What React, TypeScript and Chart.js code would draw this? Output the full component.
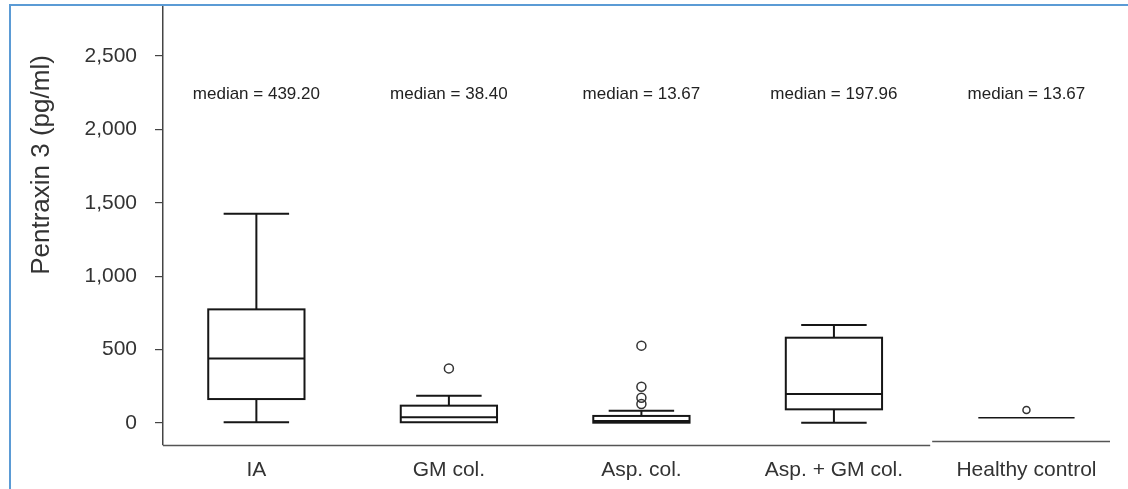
import React, { useEffect, useRef } from 'react';
import { Chart, registerables } from 'chart.js';

Chart.register(...registerables);

// ---- data ----
const CATEGORIES = ['IA', 'GM col.', 'Asp. col.', 'Asp. + GM col.', 'Healthy control'];
const MIN = [5, 5, 2, 2, 36];
const Q1 = [163, 5, 2, 93, 36];
const MEDIAN = [439.2, 38.4, 13.67, 197.96, 36];
const Q3 = [774, 118, 48, 581, 36];
const MAX = [1426, 186, 84, 668, 36];
const MEDIAN_LABELS = ['median = 439.20', 'median = 38.40', 'median = 13.67', 'median = 197.96', 'median = 13.67'];
const OUTLIER_GROUP = [1, 2, 2, 2, 2, 4];
const OUTLIER_VALUE = [372, 527, 247, 172, 129, 89];
const Y_TICKS = [0, 500, 1000, 1500, 2000, 2500];
const Y_TITLE = 'Pentraxin 3 (pg/ml)';

const FONT = '"Liberation Sans", Arial, sans-serif';
const BOX_HALF = 0.25;
const CAP_HALF = 0.17;
const LABEL_VALUE = 2240;

const boxPlugin = {
  id: 'boxPlugin',
  beforeDatasetsDraw(chart: any) {
    const { ctx } = chart;
    const xs = chart.scales.x;
    const ys = chart.scales.y;
    ctx.save();
    ctx.strokeStyle = '#161616';
    ctx.lineWidth = 2;
    CATEGORIES.forEach((_, i) => {
      const xl = xs.getPixelForValue(i - BOX_HALF);
      const xr = xs.getPixelForValue(i + BOX_HALF);
      const cl = xs.getPixelForValue(i - CAP_HALF);
      const cr = xs.getPixelForValue(i + CAP_HALF);
      const xc = xs.getPixelForValue(i);
      const yq1 = ys.getPixelForValue(Q1[i]);
      const yq3 = ys.getPixelForValue(Q3[i]);
      const ymed = ys.getPixelForValue(MEDIAN[i]);
      const ymin = ys.getPixelForValue(MIN[i]);
      const ymax = ys.getPixelForValue(MAX[i]);
      if (Q3[i] > Q1[i]) {
        ctx.lineWidth = 2;
        ctx.strokeRect(xl, yq3, xr - xl, yq1 - yq3);
      } else {
        ctx.lineWidth = 1.6;
      }
      ctx.beginPath();
      ctx.moveTo(xl, ymed);
      ctx.lineTo(xr, ymed);
      ctx.stroke();
      ctx.lineWidth = 2;
      if (MAX[i] > Q3[i]) {
        ctx.beginPath();
        ctx.moveTo(xc, yq3);
        ctx.lineTo(xc, ymax);
        ctx.moveTo(cl, ymax);
        ctx.lineTo(cr, ymax);
        ctx.stroke();
      }
      if (MIN[i] < Q1[i]) {
        ctx.beginPath();
        ctx.moveTo(xc, yq1);
        ctx.lineTo(xc, ymin);
        ctx.moveTo(cl, ymin);
        ctx.lineTo(cr, ymin);
        ctx.stroke();
      }
    });
    // median annotations
    ctx.fillStyle = '#222';
    ctx.font = `17px ${FONT}`;
    ctx.textAlign = 'center';
    ctx.textBaseline = 'middle';
    MEDIAN_LABELS.forEach((t, i) => {
      ctx.fillText(t, xs.getPixelForValue(i), ys.getPixelForValue(LABEL_VALUE));
    });
    ctx.restore();
  },
  afterDraw(chart: any) {
    const { ctx, chartArea } = chart;
    const xs = chart.scales.x;
    const split = xs.getPixelForValue(CATEGORIES.length - 1.5);
    ctx.save();
    ctx.strokeStyle = '#555';
    ctx.lineWidth = 1.5;
    ctx.beginPath();
    ctx.moveTo(chartArea.left, chartArea.bottom + 0.5);
    ctx.lineTo(split, chartArea.bottom + 0.5);
    ctx.moveTo(split + 2, chartArea.bottom - 3.5);
    ctx.lineTo(chartArea.right, chartArea.bottom - 3.5);
    ctx.stroke();
    // y-axis title
    ctx.translate(42, 165);
    ctx.rotate(-Math.PI / 2);
    ctx.fillStyle = '#333';
    ctx.font = `26px ${FONT}`;
    ctx.textAlign = 'center';
    ctx.textBaseline = 'middle';
    ctx.fillText(Y_TITLE, 0, 0);
    ctx.restore();
  },
};

export default function App() {
  const ref = useRef<HTMLCanvasElement>(null);

  useEffect(() => {
    if (!ref.current) return;
    const outliers = OUTLIER_GROUP.map((g, k) => ({ x: g, y: OUTLIER_VALUE[k] }));
    const chart = new Chart(ref.current, {
      type: 'scatter',
      data: {
        datasets: [
          {
            label: 'Outliers',
            data: outliers,
            pointStyle: 'circle',
            pointRadius: (c: any) => (c.raw && c.raw.x === CATEGORIES.length - 1 ? 3.5 : 4.5),
            pointBorderWidth: 1.5,
            borderColor: '#333',
            backgroundColor: 'rgba(0,0,0,0)',
          },
        ],
      },
      options: {
        responsive: false,
        animation: false,
        layout: { padding: { top: 7, right: 18, left: 0, bottom: 0 } },
        plugins: {
          legend: { display: false },
          tooltip: { enabled: false },
        },
        scales: {
          x: {
            type: 'linear',
            min: -0.485,
            max: 4.434,
            afterBuildTicks: (axis: any) => {
              axis.ticks = CATEGORIES.map((_, i) => ({ value: i }));
            },
            afterFit: (axis: any) => {
              axis.height = 44;
              axis.paddingLeft = 0;
              axis.paddingRight = 0;
            },
            grid: { display: false, drawTicks: false },
            border: { display: false },
            ticks: {
              autoSkip: false,
              maxRotation: 0,
              padding: 13,
              color: '#333',
              font: { family: FONT, size: 21 },
              callback: (v: any) => CATEGORIES[Math.round(Number(v))] ?? '',
            },
          },
          y: {
            type: 'linear',
            min: -150,
            max: 2834,
            afterBuildTicks: (axis: any) => {
              axis.ticks = Y_TICKS.map((v) => ({ value: v }));
            },
            afterFit: (axis: any) => {
              axis.width = 163;
              axis.paddingTop = 0;
              axis.paddingBottom = 0;
            },
            grid: {
              display: true,
              drawOnChartArea: false,
              drawTicks: true,
              tickLength: 8,
              color: '#444',
              lineWidth: 1.2,
            },
            border: { display: true, color: '#444', width: 1.5 },
            ticks: {
              padding: 18,
              color: '#333',
              font: { family: FONT, size: 21 },
              callback: (v: any) => Number(v).toLocaleString('en-US'),
            },
          },
        },
      },
      plugins: [boxPlugin],
    });
    return () => chart.destroy();
  }, []);

  return (
    <div style={{ position: 'absolute', left: 0, top: 0, width: 1128, height: 489, background: '#fff', overflow: 'hidden' }}>
      <canvas ref={ref} width={1128} height={489} style={{ position: 'absolute', left: 0, top: 0 }} />
      <div
        style={{
          position: 'absolute',
          left: 9,
          top: 4,
          width: 1200,
          height: 600,
          borderLeft: '2.5px solid #5b9bd5',
          borderTop: '2.5px solid #5b9bd5',
          pointerEvents: 'none',
        }}
      />
    </div>
  );
}
